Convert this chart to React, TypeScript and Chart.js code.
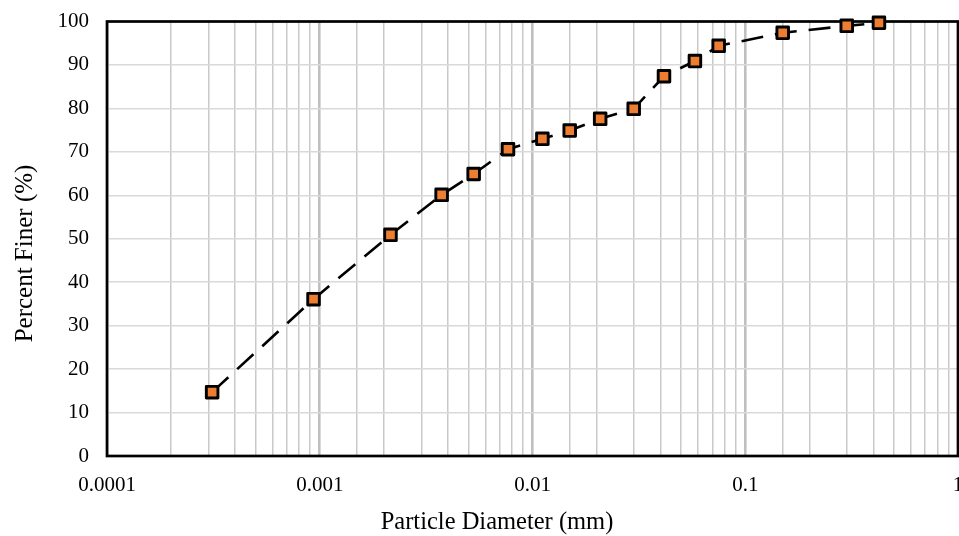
import React, { useEffect, useRef } from "react";
import { Chart, registerables } from "chart.js";

Chart.register(...registerables);

// Particle diameters (mm) and percent finer
const diameters = [
  0.000312, 0.000935, 0.00215, 0.00374, 0.00529, 0.00767, 0.01113, 0.01496,
  0.0208, 0.0299, 0.0415, 0.058, 0.075, 0.15, 0.3, 0.425,
];
const percentFiner = [
  14.7, 36.1, 50.9, 60.1, 64.9, 70.6, 73.0, 74.9, 77.6, 79.9, 87.4, 90.9, 94.4,
  97.4, 99.0, 99.7,
];
const xTickLabels = ["0.0001", "0.001", "0.01", "0.1", "1"];
const yTickStep = 10;
const xTitle = "Particle Diameter (mm)";
const yTitle = "Percent Finer (%)";

const FONT = '"Liberation Serif", "Times New Roman", serif';

const isDecade = (v: number) => {
  const l = Math.log10(v);
  return Math.abs(l - Math.round(l)) < 1e-6;
};

const framePlugin = {
  id: "frame",
  beforeDatasetsDraw(chart: any) {
    const { ctx, chartArea: a } = chart;
    ctx.save();
    ctx.strokeStyle = "#000";
    ctx.lineWidth = 2.7;
    ctx.strokeRect(a.left, a.top, a.right - a.left, a.bottom - a.top);
    ctx.restore();
    ctx.lineJoin = "round";
  },
  afterDraw(chart: any) {
    const { ctx, chartArea: a } = chart;
    ctx.save();
    ctx.fillStyle = "#000";
    ctx.textAlign = "center";
    ctx.textBaseline = "middle";
    ctx.font = `24.5px ${FONT}`;
    ctx.fillText(xTitle, a.left + 390, a.bottom + 67);
    ctx.font = `25px ${FONT}`;
    ctx.translate(a.left - 82, a.top + 232);
    ctx.rotate(-Math.PI / 2);
    ctx.fillText(yTitle, 0, 0);
    ctx.restore();
  },
};

export default function App() {
  const ref = useRef<HTMLCanvasElement | null>(null);

  useEffect(() => {
    if (!ref.current) return;
    const chart = new Chart(ref.current, {
      type: "line",
      data: {
        datasets: [
          {
            data: diameters.map((d, i) => ({ x: d, y: percentFiner[i] })),
            borderColor: "#000",
            borderWidth: 2.6,
            borderDash: [22, 12],
            borderCapStyle: "butt",
            pointStyle: "rect",
            pointRadius: 8.2,
            pointHoverRadius: 8.2,
            pointBorderWidth: 2.9,
            pointBackgroundColor: "#ED7D31",
            pointBorderColor: "#000",
            tension: 0,
            fill: false,
            clip: false as any,
          },
        ],
      },
      options: {
        animation: false,
        responsive: false,
        events: [],
        layout: { padding: { top: 21.5, right: 21, bottom: 0, left: 0 } },
        plugins: {
          legend: { display: false },
          tooltip: { enabled: false },
          title: { display: false },
        },
        scales: {
          x: {
            type: "logarithmic",
            min: 0.0001,
            max: 1,
            afterFit(scale: any) {
              scale.height = 80;
              scale.paddingLeft = 0;
              scale.paddingRight = 0;
            },
            border: { display: false },
            grid: {
              drawTicks: false,
              color: (c: any) => (c.tick && isDecade(c.tick.value) ? "#bfbfbf" : "#c9c9c9"),
              lineWidth: (c: any) => (c.tick && isDecade(c.tick.value) ? 2.6 : 1.5),
            },
            ticks: {
              autoSkip: false,
              maxRotation: 0,
              minRotation: 0,
              padding: 17,
              color: "#000",
              font: { family: FONT, size: 21 },
              callback: (v: any) => {
                const n = Number(v);
                if (!isDecade(n)) return "";
                return xTickLabels[Math.round(Math.log10(n)) + 4] ?? "";
              },
            },
          },
          y: {
            type: "linear",
            min: 0,
            max: 100,
            afterFit(scale: any) {
              scale.width = 107;
              scale.paddingTop = 0;
              scale.paddingBottom = 0;
            },
            border: { display: false },
            grid: { drawTicks: false, color: "#d9d9d9", lineWidth: 1.5 },
            ticks: {
              stepSize: yTickStep,
              padding: 18,
              color: "#000",
              font: { family: FONT, size: 21 },
            },
          },
        },
      },
      plugins: [framePlugin],
    });
    return () => chart.destroy();
  }, []);

  return (
    <div
      style={{
        position: "absolute",
        left: 0,
        top: 0,
        width: 959,
        height: 536,
        overflow: "hidden",
        background: "#fff",
      }}
    >
      <canvas ref={ref} width={979} height={536} style={{ display: "block" }} />
    </div>
  );
}
